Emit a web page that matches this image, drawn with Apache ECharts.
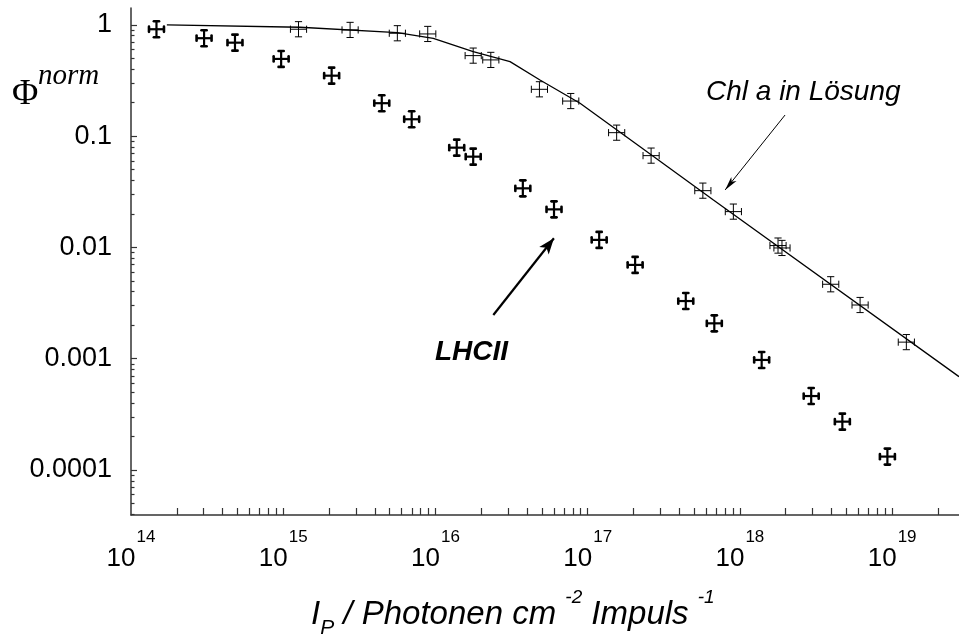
<!DOCTYPE html>
<html>
<head>
<meta charset="utf-8">
<script src="https://cdn.jsdelivr.net/npm/echarts@6/dist/echarts.min.js"></script>
<style>
  html, body { margin: 0; padding: 0; background: #fff; }
  #chart { width: 959px; height: 639px; }
</style>
</head>
<body>
<div id="chart"></div>
<script>
// Excitation intensity I_P (photons cm^-2 per pulse) and normalised yield
const lhciiIntensity = [1.47e14, 3.02e14, 4.82e14, 9.69e14, 2.08e15, 4.44e15, 6.98e15, 1.38e16, 1.77e16,
  3.75e16, 6.01e16, 1.19e17, 2.05e17, 4.41e17, 6.79e17, 1.39e18, 2.94e18, 4.71e18, 9.31e18];
const lhciiYield = [0.915, 0.76, 0.693, 0.495, 0.35, 0.198, 0.142, 0.0789, 0.0655,
  0.034, 0.022, 0.0117, 0.00697, 0.0033, 0.00208, 0.000975, 0.000462, 0.000272, 0.000132];

const chlIntensity = [1.26e15, 2.75e15, 5.62e15, 8.90e15, 1.77e16, 2.31e16, 4.82e16, 7.74e16, 1.55e17,
  2.61e17, 5.71e17, 9.06e17, 1.78e18, 1.89e18, 3.95e18, 6.16e18, 1.24e19];
const chlYield = [0.915, 0.902, 0.842, 0.83, 0.53, 0.485, 0.264, 0.207, 0.1076,
  0.0669, 0.0324, 0.021, 0.0104, 0.0099, 0.00467, 0.00304, 0.00141];

// model curve for the chlorophyll solution
const fitIntensity = [1.72e14, 1.29e15, 5.62e15, 9.68e15, 1.77e16, 3.09e16, 4.86e16, 8.91e16, 2.21e17, 6.70e17, 2.75e19];
const fitYield = [1.0, 0.953, 0.853, 0.759, 0.575, 0.468, 0.32, 0.198, 0.0805, 0.0267, 0.00069];

// multiplicative uncertainties (value / f ... value * f)
const lhciiErrX = 1.12, lhciiErrY = 1.18;
const chlErrX = 1.13, chlErrY = 1.17;

// axis ticks
const xTickExponents = [14, 15, 16, 17, 18, 19];
const yTickValues = [1e-4, 1e-3, 1e-2, 1e-1, 1];
const yTickLabels = ['0.0001', '0.001', '0.01', '0.1', '1'];

// axis ranges
const xRange = [1e14, 2.75e19];
const yRange = [3.94e-5, 1.42];

// annotation arrows [from, to] as [intensity, yield]
const chlArrow = [[1.98e18, 0.155], [8.0e17, 0.0329]];
const lhciiArrow = [[2.4e16, 0.00247], [6.0e16, 0.0121]];

const lg = Math.log10;
const xMin = lg(xRange[0]), xMax = lg(xRange[1]);
const yMin = lg(yRange[0]), yMax = lg(yRange[1]);

const xTicks = [];
for (let d = 14; d <= 19; d++) {
  for (let m = 1; m <= 9; m++) {
    const v = d + lg(m);
    if (v > xMin + 1e-9 && v <= xMax) xTicks.push(v);
  }
}
const yMajor = yTickValues.map(lg);
const yMinor = [];
for (let d = -5; d <= 0; d++) {
  for (let m = 2; m <= 9; m++) {
    const v = d + lg(m);
    if (v > yMin && v < yMax) yMinor.push(v);
  }
}

function errRows(xs, ys, fx, fy) {
  return xs.map((x, i) => [lg(x), lg(ys[i]), lg(x / fx), lg(x * fx), lg(ys[i] / fy), lg(ys[i] * fy)]);
}

function crossRenderer(w, capW, capLen) {
  return function (params, api) {
    const c = api.coord([api.value(0), api.value(1)]);
    const l = api.coord([api.value(2), api.value(1)]);
    const r = api.coord([api.value(3), api.value(1)]);
    const b = api.coord([api.value(0), api.value(4)]);
    const t = api.coord([api.value(0), api.value(5)]);
    const st = { stroke: '#000', lineWidth: w };
    const cs = { stroke: '#000', lineWidth: capW, lineCap: 'round' };
    return {
      type: 'group',
      children: [
        { type: 'line', shape: { x1: l[0], y1: c[1], x2: r[0], y2: c[1] }, style: st },
        { type: 'line', shape: { x1: c[0], y1: t[1], x2: c[0], y2: b[1] }, style: st },
        { type: 'line', shape: { x1: l[0], y1: c[1] - capLen, x2: l[0], y2: c[1] + capLen }, style: cs },
        { type: 'line', shape: { x1: r[0], y1: c[1] - capLen, x2: r[0], y2: c[1] + capLen }, style: cs },
        { type: 'line', shape: { x1: c[0] - capLen, y1: t[1], x2: c[0] + capLen, y2: t[1] }, style: cs },
        { type: 'line', shape: { x1: c[0] - capLen, y1: b[1], x2: c[0] + capLen, y2: b[1] }, style: cs }
      ]
    };
  };
}

const sans = '"Liberation Sans", Arial, Helvetica, sans-serif';
const serif = '"Liberation Serif", "Times New Roman", serif';
const axisColor = '#333';

const chart = echarts.init(document.getElementById('chart'), null, { renderer: 'canvas' });

chart.setOption({
  animation: false,
  backgroundColor: '#fff',
  grid: { left: 131, right: 0, top: 8, bottom: 124, containLabel: false },
  xAxis: {
    type: 'value',
    min: xMin,
    max: xMax,
    splitLine: { show: false },
    axisLine: { onZero: false, lineStyle: { color: axisColor, width: 1.5 } },
    axisTick: { inside: true, length: 7, customValues: xTicks, lineStyle: { color: axisColor, width: 1.2 } },
    axisLabel: {
      customValues: xTickExponents,
      margin: 29,
      formatter: v => '{b|10}{s|' + Math.round(v) + '}',
      rich: {
        b: { fontFamily: sans, fontSize: 26, color: '#000', lineHeight: 30, verticalAlign: 'middle' },
        s: { fontFamily: sans, fontSize: 17, color: '#000', lineHeight: 17, padding: [0, 0, 43, 1], verticalAlign: 'middle' }
      }
    }
  },
  yAxis: [{
    type: 'value',
    min: yMin,
    max: yMax,
    splitLine: { show: false },
    axisLine: { onZero: false, lineStyle: { color: axisColor, width: 1.5 } },
    axisTick: { inside: true, length: 6, customValues: yMajor, lineStyle: { color: axisColor, width: 1.2 } },
    axisLabel: {
      customValues: yMajor,
      margin: 19,
      fontFamily: sans,
      fontSize: 27,
      color: '#000',
      formatter: v => {
        const i = yMajor.findIndex(t => Math.abs(t - v) < 1e-6);
        return i >= 0 ? yTickLabels[i] : '';
      }
    }
  }, {
    type: 'value',
    position: 'left',
    min: yMin,
    max: yMax,
    splitLine: { show: false },
    axisLine: { show: false, onZero: false },
    axisLabel: { show: false },
    axisTick: { inside: true, length: 3.5, customValues: yMinor, lineStyle: { color: axisColor, width: 1.2 } }
  }],
  series: [
    {
      name: 'Anpassung',
      type: 'line',
      data: fitIntensity.map((x, i) => [lg(x), lg(fitYield[i])]),
      showSymbol: false,
      symbol: 'none',
      lineStyle: { color: '#000', width: 1.3 },
      z: 2,
      markLine: {
        silent: true,
        label: { show: false },
        animation: false,
        data: [
          [
            { coord: [lg(chlArrow[0][0]), lg(chlArrow[0][1])], symbol: 'none', lineStyle: { color: '#000', width: 1, type: 'solid' } },
            { coord: [lg(chlArrow[1][0]), lg(chlArrow[1][1])], symbol: 'arrow', symbolSize: [5, 14] }
          ],
          [
            { coord: [lg(lhciiArrow[0][0]), lg(lhciiArrow[0][1])], symbol: 'none', lineStyle: { color: '#000', width: 2.2, type: 'solid' } },
            { coord: [lg(lhciiArrow[1][0]), lg(lhciiArrow[1][1])], symbol: 'arrow', symbolSize: [9, 16] }
          ]
        ]
      }
    },
    {
      name: 'Chl a in Lösung',
      type: 'custom',
      renderItem: crossRenderer(1, 1, 3.2),
      encode: { x: 0, y: 1 },
      data: errRows(chlIntensity, chlYield, chlErrX, chlErrY),
      z: 3
    },
    {
      name: 'LHCII',
      type: 'custom',
      renderItem: crossRenderer(2.2, 2.6, 2.6),
      encode: { x: 0, y: 1 },
      data: errRows(lhciiIntensity, lhciiYield, lhciiErrX, lhciiErrY),
      z: 4
    }
  ],
  graphic: [
    { type: 'text', left: 12, top: 77, style: { text: 'Φ', font: '36px ' + serif, fill: '#000' } },
    { type: 'text', left: 38, top: 62, style: { text: 'norm', font: 'italic 29px ' + serif, fill: '#000' } },
    { type: 'text', left: 706, top: 78, style: { text: 'Chl a in Lösung', font: 'italic 28px ' + sans, fill: '#000' } },
    { type: 'text', left: 435, top: 338, style: { text: 'LHCII', font: 'italic bold 28px ' + sans, fill: '#000' } },
    {
      type: 'text', left: 311, top: 588,
      style: {
        text: '{i|I}{sub|P}{i| / Photonen cm }{sup|-2}{i| Impuls }{sup|-1}',
        rich: {
          i: { fontFamily: sans, fontStyle: 'italic', fontSize: 33, lineHeight: 60, verticalAlign: 'middle', fill: '#000' },
          sub: { fontFamily: sans, fontStyle: 'italic', fontSize: 21, lineHeight: 20, padding: [27, 0, 0, 0], verticalAlign: 'middle', fill: '#000' },
          sup: { fontFamily: sans, fontStyle: 'italic', fontSize: 19, lineHeight: 20, padding: [0, 0, 34, 0], verticalAlign: 'middle', fill: '#000' }
        }
      }
    }
  ]
});
</script>
</body>
</html>
